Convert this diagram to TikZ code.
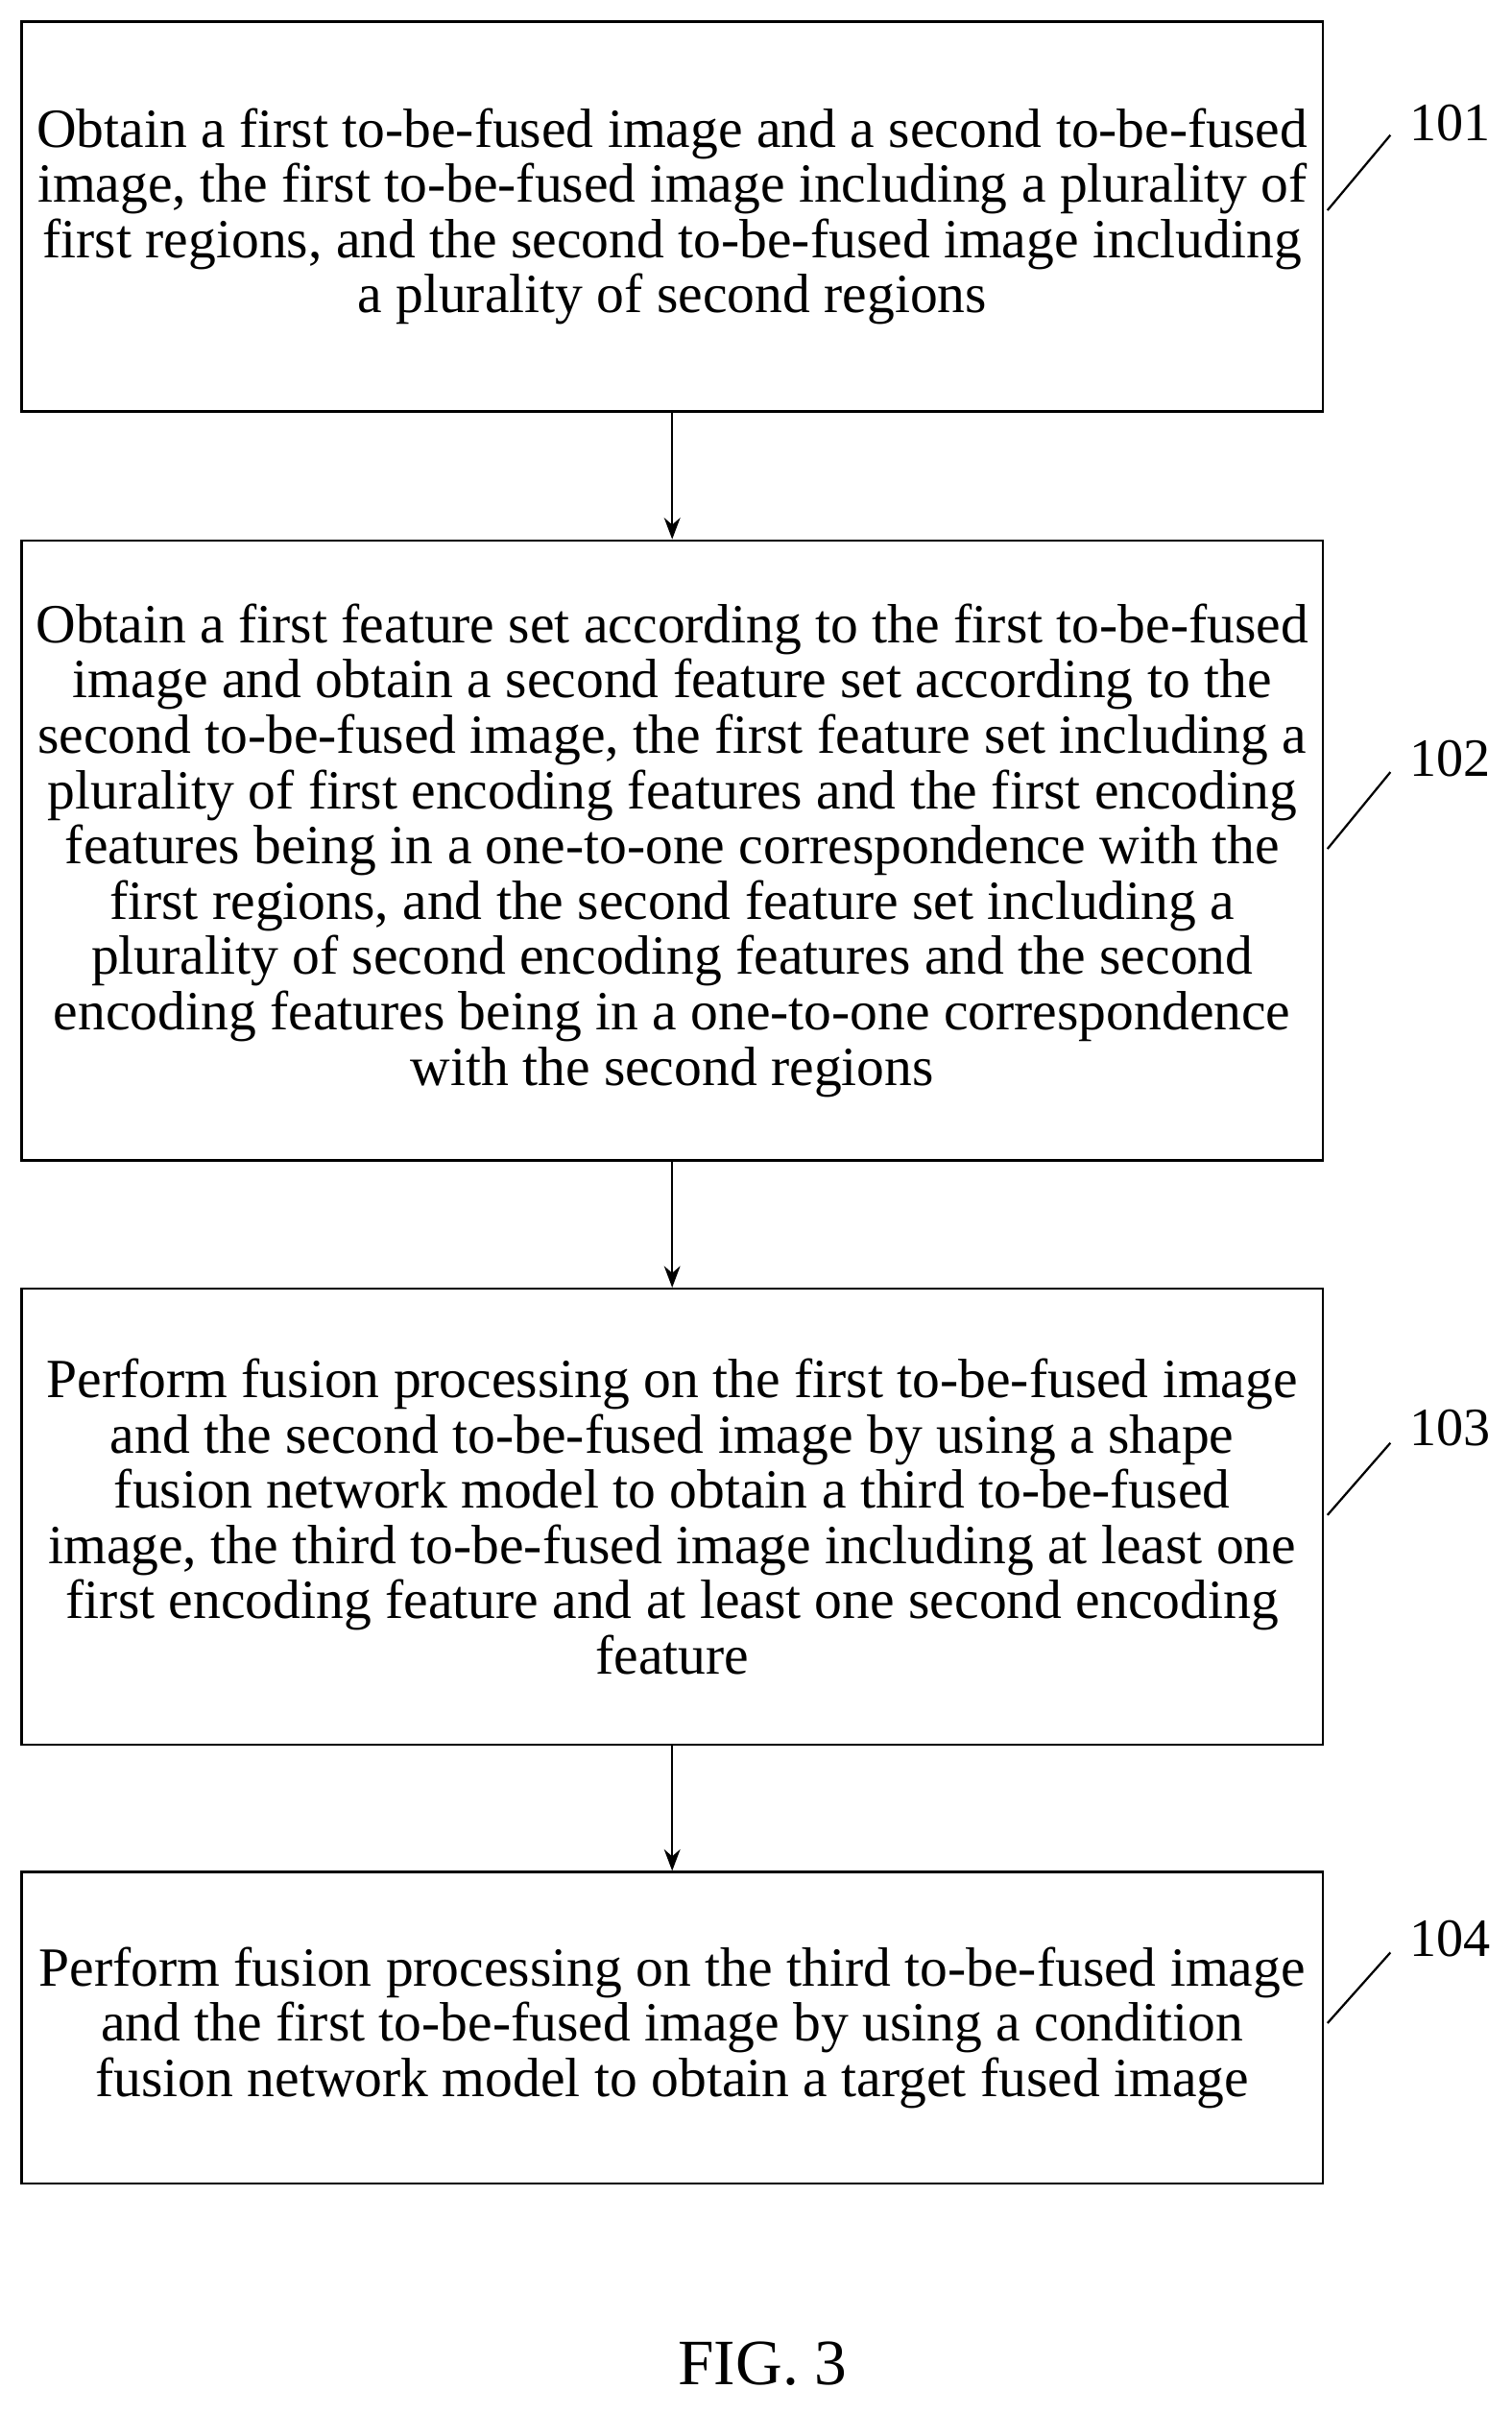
\documentclass[tikz,border=0pt]{standalone}
\usepackage{fontspec}
\setmainfont{Liberation Serif}
\usetikzlibrary{arrows.meta,positioning}
\tikzset{>={Stealth[length=8pt,width=6pt]}}
\tikzset{%
    stepbox/.style={draw,thick,minimum width=16.96cm,align=center,
        inner sep=0pt,font=\fontsize{20.5}{20.5}\selectfont},
    tag/.style={font=\fontsize{20}{20}\selectfont}
}
\begin{document}
\begin{tikzpicture}[x=0.02cm,y=-0.02cm]
    \useasboundingbox (0,0) rectangle (985,1572);
    \node[stepbox,minimum height=5.08cm] (s1) at (438,141) {Obtain a first to-be-fused image and a second to-be-fused\\ image, the first to-be-fused image including a plurality of\\ first regions, and the second to-be-fused image including\\ a plurality of second regions};
    \node[stepbox,minimum height=8.08cm] (s2) at (438,554) {Obtain a first feature set according to the first to-be-fused\\ image and obtain a second feature set according to the\\ second to-be-fused image, the first feature set including a\\ plurality of first encoding features and the first encoding\\ features being in a one-to-one correspondence with the\\ first regions, and the second feature set including a\\ plurality of second encoding features and the second\\ encoding features being in a one-to-one correspondence\\ with the second regions};
    \node[stepbox,minimum height=5.94cm] (s3) at (438,988) {Perform fusion processing on the first to-be-fused image\\ and the second to-be-fused image by using a shape\\ fusion network model to obtain a third to-be-fused\\ image, the third to-be-fused image including at least one\\ first encoding feature and at least one second encoding\\ feature};
    \node[stepbox,minimum height=4.06cm] (s4) at (438,1321) {Perform fusion processing on the third to-be-fused image\\ and the first to-be-fused image by using a condition\\ fusion network model to obtain a target fused image};
    \draw[->,thick] (s1) -- (s2);
    \draw[->,thick] (s2) -- (s3);
    \draw[->,thick] (s3) -- (s4);
    % step labels
    \node[tag] (t1) at (945,80) {101};
    \node[tag] (t2) at (945,494) {102};
    \node[tag] (t3) at (945,930) {103};
    \node[tag] (t4) at (945,1263) {104};
    \draw[thick] (865,137) -- (906,88);
    \draw[thick] (865,553) -- (906,503);
    \draw[thick] (865,987) -- (906,940);
    \draw[thick] (865,1318) -- (906,1272);
    \node[font=\fontsize{24}{28}\selectfont] (fig) at (497,1540) {FIG. 3};
\end{tikzpicture}
\end{document}
